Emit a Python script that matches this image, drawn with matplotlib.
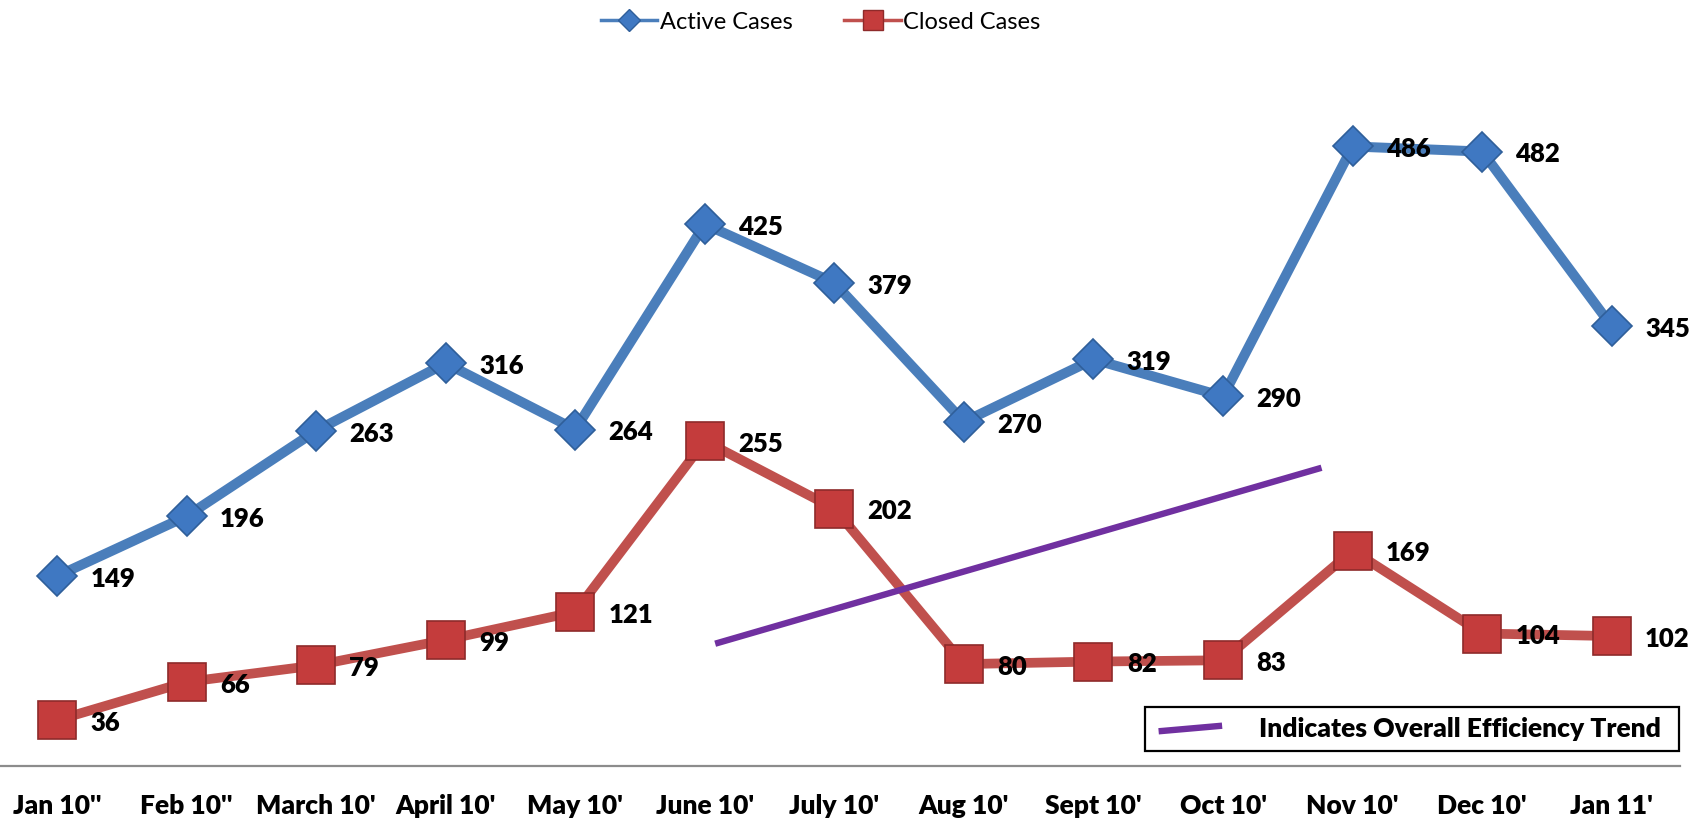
import matplotlib
matplotlib.use("Agg")
import matplotlib.pyplot as plt
from matplotlib.lines import Line2D
from matplotlib.patches import Rectangle

months = ["Jan 10''", "Feb 10''", "March 10'", "April 10'", "May 10'", "June 10'",
          "July 10'", "Aug 10'", "Sept 10'", "Oct 10'", "Nov 10'", "Dec 10'", "Jan 11'"]
active_cases = [149, 196, 263, 316, 264, 425, 379, 270, 319, 290, 486, 482, 345]
closed_cases = [36, 66, 79, 99, 121, 255, 202, 80, 82, 83, 169, 104, 102]
trend_x = [5.08, 9.76]
trend_y = [96, 234]
series_names = ["Active Cases", "Closed Cases"]
trend_label = "Indicates Overall Efficiency Trend"

BLUE_LINE = "#4a7ebb"
BLUE_MARK = "#3f78c2"
BLUE_EDGE = "#2f5f9a"
RED_LINE = "#c0504d"
RED_MARK = "#c43c3c"
RED_EDGE = "#8e2a2a"
PURPLE = "#7030a0"
HEAVY = 'heavy'

plt.rcParams['font.family'] = ['Lato', 'DejaVu Sans']

fig = plt.figure(figsize=(17.06, 8.22), dpi=100)
ax = fig.add_axes([0.0, 0.068, 0.985, 0.8686])

x = list(range(len(months)))
ax.plot(x, active_cases, color=BLUE_LINE, lw=7.2, marker='D', ms=20,
        mfc=BLUE_MARK, mec=BLUE_EDGE, mew=1.2, zorder=3, solid_joinstyle='miter')
ax.plot(x, closed_cases, color=RED_LINE, lw=7.0, marker='s', ms=28,
        mfc=RED_MARK, mec=RED_EDGE, mew=1.2, zorder=4, solid_joinstyle='miter')
ax.plot(trend_x, trend_y, color=PURPLE, lw=4.6, zorder=5, solid_capstyle='butt')

for i, v in enumerate(active_cases):
    ax.annotate(str(v), (i, v), xytext=(24, -2), textcoords='offset points',
                ha='left', va='center', fontsize=18.5, fontweight=HEAVY, color='black', zorder=6)
for i, v in enumerate(closed_cases):
    ax.annotate(str(v), (i, v), xytext=(24, -2), textcoords='offset points',
                ha='left', va='center', fontsize=18.5, fontweight=HEAVY, color='black', zorder=6)

ax.set_xlim(-0.44, 12.53)
ax.set_ylim(0, 560)
ax.set_xticks(x)
ax.set_xticklabels(months, fontsize=19, fontweight=HEAVY)
ax.tick_params(axis='x', length=0, pad=20)
ax.set_yticks([])
for s in ['top', 'left', 'right']:
    ax.spines[s].set_visible(False)
ax.spines['bottom'].set_color('#8c8c8c')
ax.spines['bottom'].set_linewidth(1.6)
ax.patch.set_alpha(0)

handles = [
    Line2D([0], [0], color=BLUE_LINE, lw=2.5, marker='D', ms=11, mfc=BLUE_MARK, mec=BLUE_EDGE),
    Line2D([0], [0], color=RED_LINE, lw=2.5, marker='s', ms=14, mfc=RED_MARK, mec=RED_EDGE),
]
fig.legend(handles, series_names, loc='center', bbox_to_anchor=(0.481, 0.973),
           ncol=2, frameon=False, fontsize=17, handlelength=2.4, handletextpad=0.1,
           columnspacing=2.2)

# efficiency trend key box
fig.patches.append(Rectangle((0.671, 0.0864), 0.313, 0.0535, transform=fig.transFigure,
                             facecolor='white', edgecolor='black', lw=1.6, zorder=10))
fig.lines.append(Line2D([0.681, 0.7145], [0.1107, 0.1168], transform=fig.transFigure,
                        color=PURPLE, lw=4.6, zorder=11))
fig.text(0.738, 0.1131, trend_label, ha='left', va='center', fontsize=19,
         fontweight=HEAVY, zorder=12)

fig.savefig("out.png", dpi=100)
